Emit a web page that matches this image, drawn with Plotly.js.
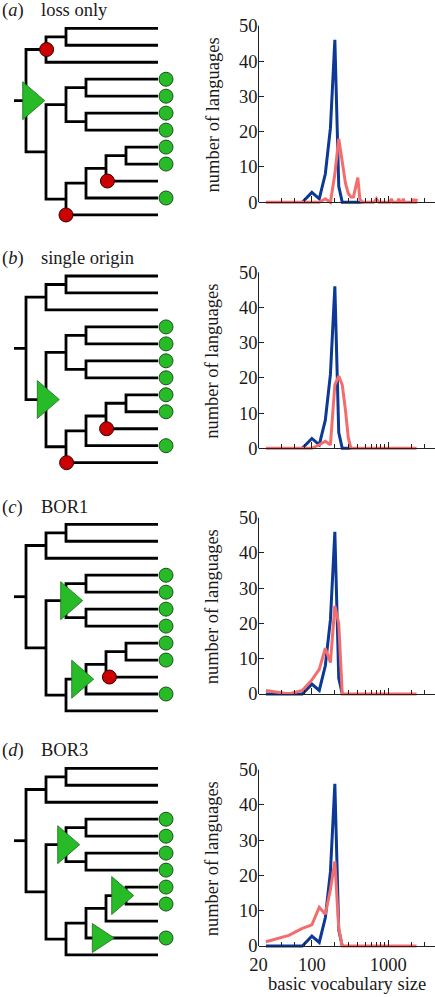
<!DOCTYPE html>
<html><head><meta charset="utf-8">
<script src="https://cdn.plot.ly/plotly-3.0.1.min.js"></script>
<style>html,body{margin:0;padding:0;background:#fff}</style>
</head><body>
<div id="chart" style="width:435px;height:997px"></div>
<script>
// ================= DATA =================
const panelLetters = ['a', 'b', 'c', 'd'];
const panelTitles = ['loss only', 'single origin', 'BOR1', 'BOR3'];

// observed distribution (blue), number of languages per basic vocabulary size
const obsXa = [75, 100, 125, 150, 175, 200, 225, 250, 475];
const obsYa = [0, 2.8, 1, 8, 21, 46, 4.5, 0, 0];
const obsXb = [75, 100, 125, 150, 175, 200, 225, 250, 325];
const obsYb = [0, 2.8, 1, 8, 21, 46, 4.5, 0, 0];
const obsXc = [25, 50, 75, 100, 125, 150, 175, 200, 225, 250];
const obsYc = [0, 0, 0, 2.8, 1, 8, 21, 46, 4.5, 0];
const obsXd = [25, 50, 75, 100, 125, 150, 175, 200, 225, 250];
const obsYd = [0, 0, 0, 2.8, 1, 8, 21, 46, 4.5, 0];

// simulated distribution (salmon)
const simXa = [25, 125, 150, 175, 200, 225, 250, 275, 300, 325, 350, 400, 425, 450, 650, 700, 750, 1050, 1100, 1150, 1325, 1375, 1425, 1525, 1575, 1625, 2100, 2150, 2200, 2300, 2350];
const simYa = [0, 0, 1, 0, 8, 18, 11.5, 5.5, 2.5, 1.5, 1.5, 7, 1, 0, 0, 1, 0, 0, 1, 0, 0, 1, 0, 0, 1, 0, 0, 1, 0, 0, 1];
const simXb = [25, 100, 125, 150, 175, 200, 225, 250, 275, 300, 325, 2350];
const simYb = [0, 0, 1, 2, 1, 18, 20.5, 18, 11, 3, 0, 0];
const simXc = [25, 50, 75, 100, 125, 150, 175, 200, 225, 250, 2350];
const simYc = [1, 0, 1, 4, 7, 13, 8.9, 25, 20, 0, 0];
const simXd = [25, 50, 75, 100, 125, 150, 175, 200, 225, 250, 2350];
const simYd = [1.2, 3, 5, 6, 11, 9, 16, 24, 5, 0, 0];

const yTickVals = [0, 10, 20, 30, 40, 50];
const xTickVals = [20, 100, 1000];
const xTickText = ['20', '100', '1000'];
const xMinorVals = [40, 60, 80, 200, 300, 400, 500, 600, 700, 800, 900, 2000, 3000, 4000];

// tree topology (leaves L0..L11, internal nodes with depth level and children)
const treeNodes = ['A', 'B', 'C', 'D', 'E', 'F', 'G', 'H', 'I', 'J', 'R'];
const treeDepth = [2, 1, 3, 3, 2, 5, 4, 3, 2, 1, 0];
const treeChildren = [['L0', 'L1'], ['A', 'L2'], ['L3', 'L4'], ['L5', 'L6'], ['C', 'D'],
                      ['L7', 'L8'], ['F', 'L9'], ['G', 'L10'], ['H', 'L11'], ['E', 'I'], ['B', 'J']];
const leafCount = 12;
const greenLeaves = ['L3', 'L4', 'L5', 'L6', 'L7', 'L8', 'L10'];
// losses (red circles): [branch target, level along branch]
const lossEvents = [
  [['B', 1.03], ['L9', 4.07], ['L11', 2.0]],
  [['L9', 4.03], ['L11', 2.03]],
  [['L9', 4.17]],
  []
];
// origins (green triangles): [branch target, left-edge level, height px]
const originEvents = [
  [['R', -0.165, 38]],
  [['J', 0.565, 38]],
  [['E', 1.735, 38], ['H', 2.285, 38]],
  [['E', 1.585, 38], ['F', 4.285, 38], ['L10', 3.315, 29]]
];

// ================= LAYOUT CONSTANTS =================
const W = 435, H = 997;
const fx = px => px / W;
const fy = px => 1 - px / H;
const SERIF = 'Liberation Serif, Times New Roman, serif';
const TXT = '#1a1a1a', AXC = '#222';
const BLUE = '#0c3896', SALMON = '#f46d6d', GREEN = '#27bb27', RED = '#cc0000';
const FS = 18.5;
const CHART_L = 258.5;
const chartTop = [25.7, 272.3, 517.7, 769.7];
const chartZero = [202.3, 448.3, 694, 946];
const labelY = [10, 258, 507, 750];
const Y_PAD = 1.2;
// tree geometry
const PX_PER_LEVEL = 20, LEVEL0_PX = 26, TIP_LEVEL = 6.6, STEM_LEVEL = -0.6, CIRCLE_LEVEL = 7.0;
const leaf0Px = [28.3, 276, 524.3, 768.3];
const LEAF_SP = 16.97;
const TRI_W_PX = 22;

const obsX = [obsXa, obsXb, obsXc, obsXd], obsY = [obsYa, obsYb, obsYc, obsYd];
const simX = [simXa, simXb, simXc, simXd], simY = [simYa, simYb, simYc, simYd];

// tree positions
const pos = {};
for (let i = 0; i < leafCount; i++) pos['L' + i] = {d: TIP_LEVEL, y: i};
treeNodes.forEach((n, k) => {
  const ch = treeChildren[k];
  pos[n] = {d: treeDepth[k], y: (pos[ch[0]].y + pos[ch[1]].y) / 2};
});

const data = [];
const layout = {
  width: W, height: H, margin: {l: 0, r: 0, t: 0, b: 0}, showlegend: false,
  paper_bgcolor: '#fff', plot_bgcolor: 'rgba(0,0,0,0)',
  font: {family: SERIF, size: FS, color: TXT},
  annotations: [], shapes: []
};

for (let p = 0; p < 4; p++) {
  const n = p + 1, sfx = n === 1 ? '' : String(n);
  const tn = p + 5;
  // ---- chart axes ----
  const yBottomPx = chartZero[p] + Y_PAD * (chartZero[p] - chartTop[p]) / 50;
  layout['xaxis' + sfx] = {
    type: 'log', range: [Math.log10(20), Math.log10(4100)], domain: [fx(CHART_L), 1],
    anchor: 'free', position: fy(chartZero[p]),
    showline: true, linecolor: AXC, linewidth: 1,
    ticks: 'inside', ticklen: 6, tickwidth: 1, tickcolor: AXC,
    tickmode: 'array', tickvals: xTickVals, ticktext: xTickText,
    showticklabels: p === 3, tickfont: {family: SERIF, size: FS, color: TXT}, ticklabelstandoff: 2,
    minor: {tickmode: 'array', tickvals: xMinorVals, ticks: 'inside', ticklen: 4, tickwidth: 1, tickcolor: AXC, showgrid: false},
    showgrid: false, zeroline: false, fixedrange: true
  };
  layout['yaxis' + sfx] = {
    range: [-Y_PAD, 50], domain: [fy(yBottomPx), fy(chartTop[p])], anchor: 'x' + sfx,
    showline: false, ticks: 'inside', ticklen: 5, tickwidth: 1, tickcolor: AXC,
    tickmode: 'array', tickvals: yTickVals, tickfont: {family: SERIF, size: FS, color: TXT},
    showgrid: false, zeroline: false, fixedrange: true
  };
  layout.shapes.push({type: 'line', xref: 'paper', yref: 'paper',
    x0: fx(CHART_L), x1: fx(CHART_L), y0: fy(chartZero[p]), y1: fy(chartTop[p]),
    line: {color: AXC, width: 1}});
  data.push({type: 'scatter', mode: 'lines', x: obsX[p], y: obsY[p], xaxis: 'x' + sfx, yaxis: 'y' + sfx,
    line: {color: BLUE, width: 3}, hoverinfo: 'skip'});
  data.push({type: 'scatter', mode: 'lines', x: simX[p], y: simY[p], xaxis: 'x' + sfx, yaxis: 'y' + sfx,
    line: {color: SALMON, width: 3}, hoverinfo: 'skip'});

  // ---- tree axes ----
  const topPx = leaf0Px[p] - LEAF_SP, botPx = leaf0Px[p] + 12 * LEAF_SP;
  layout['xaxis' + tn] = {domain: [0, fx(200)], range: [-LEVEL0_PX / PX_PER_LEVEL, (200 - LEVEL0_PX) / PX_PER_LEVEL],
    anchor: 'y' + tn, visible: false, fixedrange: true};
  layout['yaxis' + tn] = {domain: [fy(botPx), fy(topPx)], range: [12, -1], anchor: 'x' + tn, visible: false, fixedrange: true};

  const lx = [], ly = [];
  lx.push(STEM_LEVEL, pos.R.d, null); ly.push(pos.R.y, pos.R.y, null);
  treeNodes.forEach((nm, k) => {
    const [c1, c2] = treeChildren[k];
    const nd = pos[nm];
    lx.push(pos[c1].d, nd.d, nd.d, pos[c2].d, null);
    ly.push(pos[c1].y, pos[c1].y, pos[c2].y, pos[c2].y, null);
  });
  data.push({type: 'scatter', mode: 'lines', x: lx, y: ly, xaxis: 'x' + tn, yaxis: 'y' + tn,
    line: {color: '#000', width: 2.8}, hoverinfo: 'skip', cliponaxis: false});

  originEvents[p].forEach(([tg, left, hpx]) => {
    const yc = pos[tg].y, hh = hpx / 2 / LEAF_SP, tip = left + TRI_W_PX / PX_PER_LEVEL;
    data.push({type: 'scatter', mode: 'lines', x: [left, left, tip, left], y: [yc - hh, yc + hh, yc, yc - hh],
      fill: 'toself', fillcolor: GREEN, line: {color: '#1b6b1b', width: 0.8},
      xaxis: 'x' + tn, yaxis: 'y' + tn, hoverinfo: 'skip'});
  });

  data.push({type: 'scatter', mode: 'markers', x: greenLeaves.map(() => CIRCLE_LEVEL), y: greenLeaves.map(l => pos[l].y),
    xaxis: 'x' + tn, yaxis: 'y' + tn, cliponaxis: false, hoverinfo: 'skip',
    marker: {size: 14, color: GREEN, line: {color: '#1f4f1f', width: 1}}});
  if (lossEvents[p].length) {
    data.push({type: 'scatter', mode: 'markers', x: lossEvents[p].map(e => e[1]), y: lossEvents[p].map(e => pos[e[0]].y),
      xaxis: 'x' + tn, yaxis: 'y' + tn, cliponaxis: false, hoverinfo: 'skip',
      marker: {size: 14, color: RED, line: {color: '#300', width: 1}}});
  }

  // ---- text ----
  layout.annotations.push({xref: 'paper', yref: 'paper', x: 0, y: fy(labelY[p]), xanchor: 'left', yanchor: 'middle',
    text: '(<i>' + panelLetters[p] + '</i>)', showarrow: false, font: {family: SERIF, size: FS, color: TXT}});
  layout.annotations.push({xref: 'paper', yref: 'paper', x: fx(39), y: fy(labelY[p]), xanchor: 'left', yanchor: 'middle',
    text: panelTitles[p], showarrow: false, font: {family: SERIF, size: FS, color: TXT}});
  layout.annotations.push({xref: 'paper', yref: 'paper', x: fx(212), y: fy((chartTop[p] + chartZero[p]) / 2 + 1.5),
    xanchor: 'center', yanchor: 'middle', textangle: -90,
    text: 'number of languages', showarrow: false, font: {family: SERIF, size: FS, color: TXT}});
}
layout.annotations.push({xref: 'paper', yref: 'paper', x: fx(346.7), y: fy(984), xanchor: 'center', yanchor: 'middle',
  text: 'basic vocabulary size', showarrow: false, font: {family: SERIF, size: FS, color: TXT}});

Plotly.newPlot('chart', data, layout, {staticPlot: true, displayModeBar: false});
</script>
</body></html>
